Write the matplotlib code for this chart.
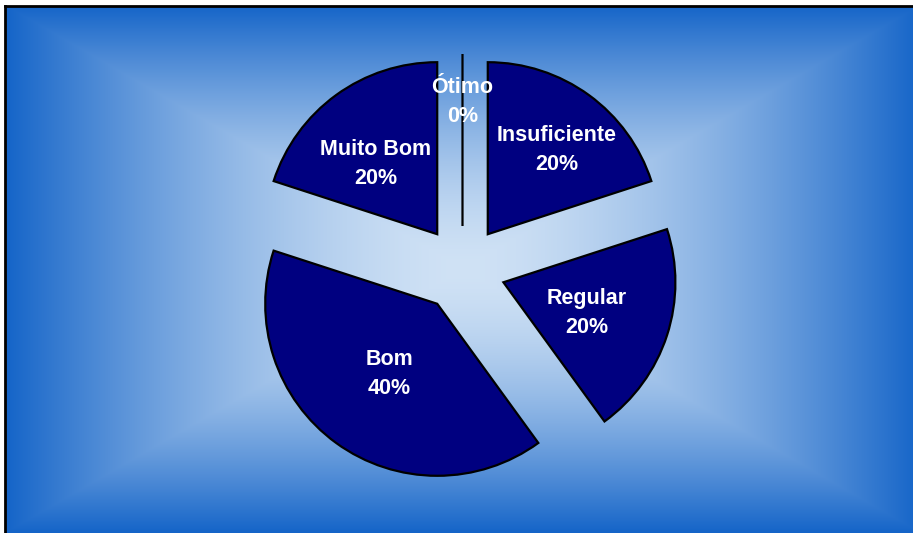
import numpy as np
import matplotlib
matplotlib.use('Agg')
import matplotlib.pyplot as plt
from matplotlib.colors import to_rgb

# chart data
labels = ['Ótimo', 'Insuficiente', 'Regular', 'Bom', 'Muito Bom']
values = [0, 20, 20, 40, 20]

# style
W, H = 913, 533
pie_cx, pie_cy, pie_r = 462.5, 269, 172   # pixels, from top-left
explode_frac = 0.25
label_dist = [0.73, 0.64, 0.51, 0.486, 0.55]
label_turn = [0, -2.7, -0.9, 1.0, 4.7]   # degrees, fine tuning of label angle
label_drop = 2                           # pixels, text sits a bit lower in the original
center_col = np.array(to_rgb('#d0e2f5'))
edge_col = np.array(to_rgb('#1464c8'))

fig = plt.figure(figsize=(W / 100, H / 100), dpi=100)

# background with a rectangular "from centre" gradient
x0, y0 = 5, 6
bg = fig.add_axes([x0 / W, 0, (W - x0) / W, (H - y0) / H])
bw, bh = W - x0, H - y0
xx, yy = np.meshgrid(np.arange(bw) + 0.5, np.arange(bh) + 0.5)
gcx, gcy = pie_cx - x0, pie_cy - y0
t = np.maximum(np.abs(xx - gcx) / max(gcx, bw - gcx), np.abs(yy - gcy) / max(gcy, bh - gcy))
t = np.clip(t, 0, 1) ** 1.6
img = center_col[None, None, :] * (1 - t[..., None]) + edge_col[None, None, :] * t[..., None]
bg.imshow(img, aspect='auto', interpolation='bilinear')
bg.set_xticks([])
bg.set_yticks([])
for side in ['right', 'bottom']:
  bg.spines[side].set_visible(False)
for side in ['left', 'top']:
  bg.spines[side].set_linewidth(2)
  bg.spines[side].set_color('black')

# pie, drawn in units of the radius
ax = fig.add_axes([0, 0, 1, 1])
ax.patch.set_alpha(0)
wedges, _, autotexts = ax.pie(
  values, startangle=90, counterclock=False,
  explode=[explode_frac] * len(values),
  colors=['#000080'] * len(values),
  wedgeprops=dict(edgecolor='black', linewidth=1.6),
  autopct='%.0f%%', pctdistance=0.55,
  textprops=dict(color='white', fontsize=15.5, fontweight='bold', family='Liberation Sans'))
ax.set_xlim(-pie_cx / pie_r, (W - pie_cx) / pie_r)
ax.set_ylim(-(H - pie_cy) / pie_r, pie_cy / pie_r)
ax.set_aspect('equal')
ax.axis('off')

for w, txt, lab, d, turn in zip(wedges, autotexts, labels, label_dist, label_turn):
  th = np.deg2rad((w.theta1 + w.theta2) / 2 + turn)
  cx, cy = w.center
  txt.set_text(lab + '\n' + txt.get_text())
  txt.set_position((cx + d * np.cos(th), cy + d * np.sin(th) - label_drop / pie_r))
  txt.set_linespacing(1.5)
  txt.set_zorder(5)

fig.savefig('out.png', dpi=100)
